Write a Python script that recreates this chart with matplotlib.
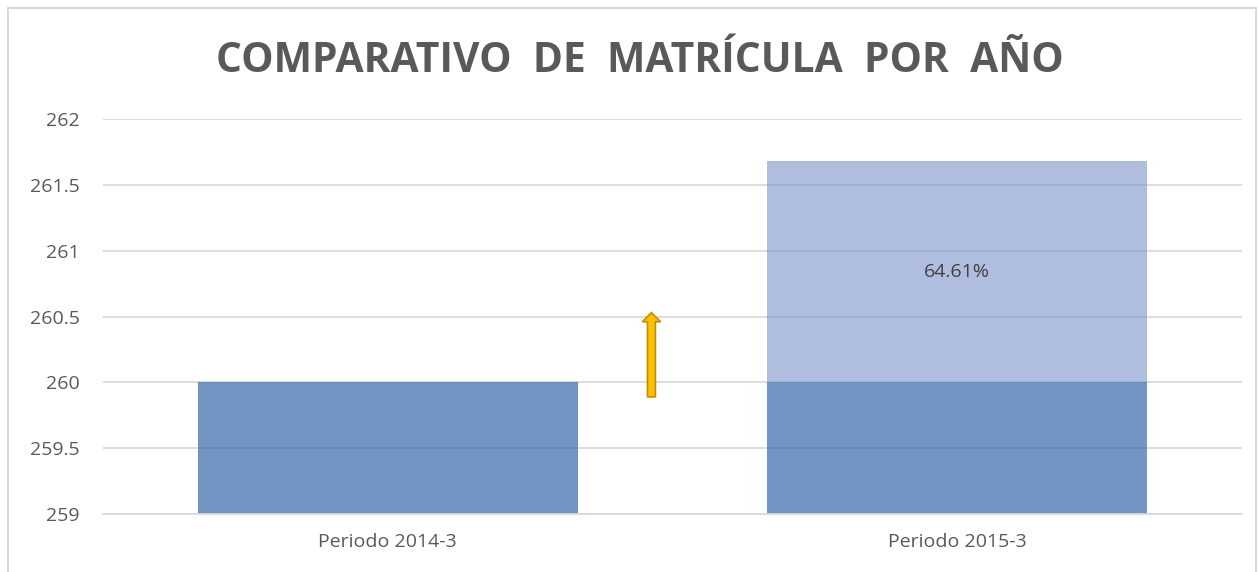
import matplotlib.pyplot as plt
from matplotlib.patches import Rectangle, FancyArrow

# data
categories = ["Periodo 2014-3", "Periodo 2015-3"]
base_values = [260, 260]
total_2015 = 261.68
pct_label = "64.61%"
arrow_from, arrow_to = 259.89, 260.53

plt.rcParams["font.family"] = ["Open Sans", "DejaVu Sans"]
grey = "#595959"

fig = plt.figure(figsize=(12.58, 5.72), dpi=100)
ax = fig.add_axes([103 / 1258, 1 - 514 / 572, 1139 / 1258, 395 / 572])

x = range(len(categories))
ax.bar(x, base_values, width=0.667, color="#4472AF", alpha=0.75, zorder=2)
ax.bar([1], [total_2015 - base_values[1]], bottom=[base_values[1]], width=0.667,
       color="#7A91CB", alpha=0.6, zorder=2)
ax.text(1, (base_values[1] + total_2015) / 2, pct_label, ha="center", va="center",
        fontsize=14, color="#404040", zorder=3)

arr = FancyArrow(0.463, arrow_from, 0, arrow_to - arrow_from, width=0.014,
                 head_width=0.032, head_length=0.07, length_includes_head=True,
                 facecolor="#FFC000", edgecolor="#BF9000", linewidth=1.2, zorder=4)
ax.add_patch(arr)

ax.set_xlim(-0.5, 1.5)
ax.set_ylim(259, 262)
ax.set_yticks([259, 259.5, 260, 260.5, 261, 261.5, 262])
ax.set_yticklabels(["259", "259.5", "260", "260.5", "261", "261.5", "262"])
ax.set_xticks(list(x))
ax.set_xticklabels(categories)
ax.grid(axis="y", color="#D9D9D9", linewidth=1.3, zorder=1)
ax.set_axisbelow(True)
for s in ["top", "right", "left"]:
    ax.spines[s].set_visible(False)
ax.spines["bottom"].set_color("#D9D9D9")
ax.spines["bottom"].set_linewidth(1.3)
ax.tick_params(axis="both", length=0, labelsize=14, labelcolor=grey)
ax.tick_params(axis="y", pad=17)
ax.tick_params(axis="x", pad=14)

fig.text(640 / 1258, 1 - 62 / 572, "COMPARATIVO  DE  MATRÍCULA  POR  AÑO", ha="center", va="center",
         fontsize=29.3, fontweight="bold", color=grey)

fig.patches.append(Rectangle((8 / 1258, -0.05), 1 - 10 / 1258, 1 - 8 / 572 + 0.05,
                             transform=fig.transFigure, fill=False, edgecolor="#D9D9D9",
                             linewidth=1.5))

fig.savefig("out.png", dpi=100)
